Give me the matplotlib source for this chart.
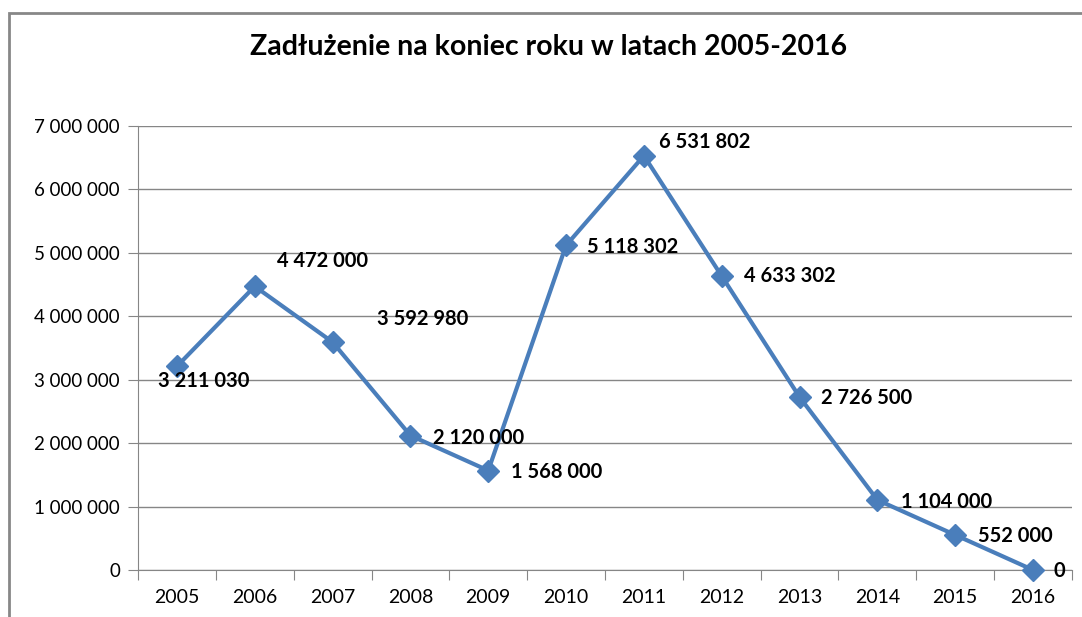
import numpy as np
import matplotlib.pyplot as plt
from matplotlib.patches import Rectangle

# dane
lata = ['2005', '2006', '2007', '2008', '2009', '2010', '2011', '2012', '2013', '2014', '2015', '2016']
zadluzenie = [3211030, 4472000, 3592980, 2120000, 1568000, 5118302, 6531802, 4633302, 2726500, 1104000, 552000, 0]
# przesunięcia etykiet (px)
przes_x = [27, 68, 90, 68, 68, 67, 61, 68, 67, 69, 60, 26]
przes_y = [-15, 25, 23, -2, -1, -2, 14, 0, -1, -2, -1, -1]

plt.rcParams['font.family'] = ['Lato', 'DejaVu Sans']

def fmt(v):
    return f"{int(v):,}".replace(',', ' ')

fig = plt.figure(figsize=(10.82, 6.17), dpi=100)
ax = fig.add_axes([138 / 1082, 1 - 570 / 617, (1072 - 138) / 1082, (570 - 126) / 617])

x = np.arange(len(lata))
ax.plot(x, zadluzenie, color='#4A7EBB', lw=3, marker='D', markersize=11,
        markerfacecolor='#4A7EBB', markeredgecolor='#4A7EBB', zorder=3, clip_on=False)

for i, v in enumerate(zadluzenie):
    ax.annotate(fmt(v), (x[i], v), xytext=(przes_x[i], przes_y[i]), textcoords='offset pixels',
                ha='center', va='center', fontsize=14.5, fontweight='bold', color='black')

ax.set_xlim(-0.5, 11.5)
ax.set_ylim(0, 7000000)
ax.set_yticks(np.arange(0, 7000001, 1000000))
ax.set_yticklabels([fmt(v) for v in np.arange(0, 7000001, 1000000)], fontsize=13.5)
ax.set_xticks(np.arange(-0.5, 12, 1))
ax.set_xticklabels([])
ax.set_xticks(x, minor=True)
ax.set_xticklabels(lata, minor=True, fontsize=14)
ax.tick_params(axis='x', which='major', length=7, color='#868686', direction='out')
ax.tick_params(axis='x', which='minor', length=0, pad=14)
ax.tick_params(axis='y', length=7, color='#868686', pad=6)
ax.grid(axis='y', color='#868686', lw=1)
ax.set_axisbelow(True)
for s in ['top', 'right']:
    ax.spines[s].set_visible(False)
for s in ['left', 'bottom']:
    ax.spines[s].set_color('#868686')

fig.text(549 / 1082, 1 - 47 / 617, 'Zadłużenie na koniec roku w latach 2005-2016',
         ha='center', va='center', fontsize=20.5, fontweight='bold')

fig.patches.append(Rectangle((9 / 1082, -0.1), 1.2, 0.1 + 1 - 13 / 617, transform=fig.transFigure,
                             fill=False, edgecolor='#878787', lw=2))

fig.savefig('out.png', dpi=100)
